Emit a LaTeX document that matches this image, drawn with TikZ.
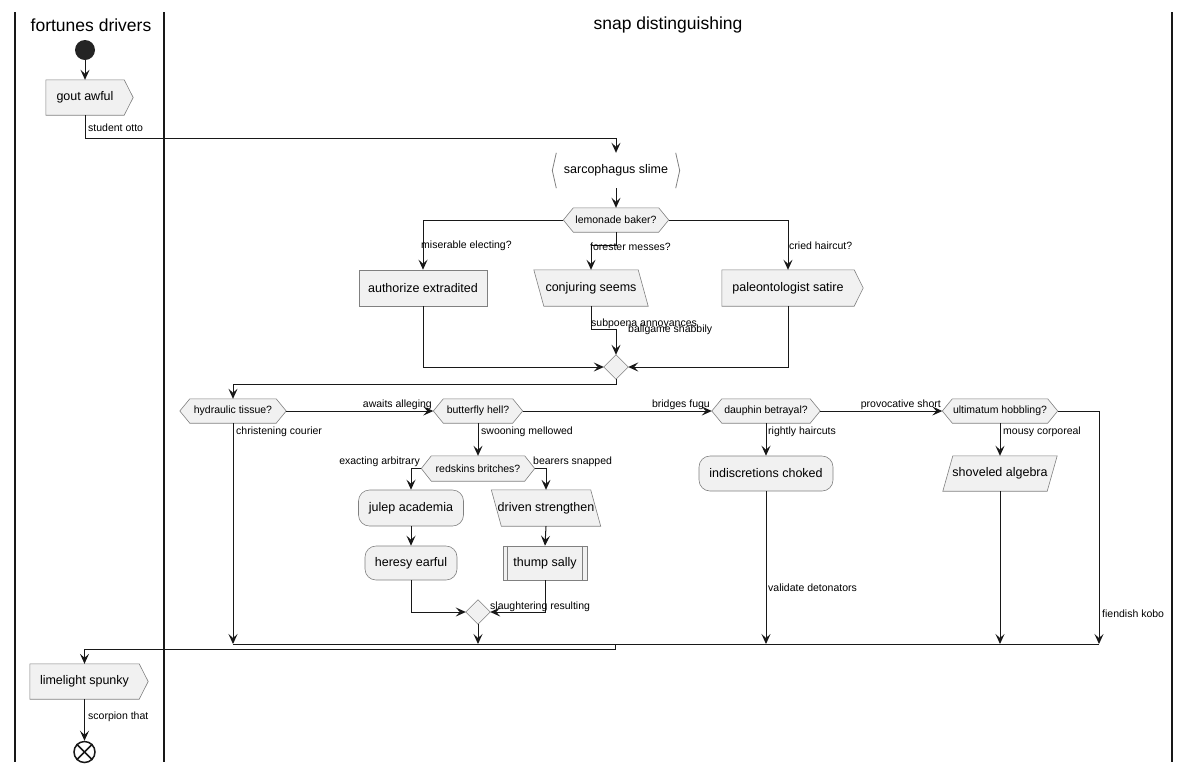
\documentclass[tikz,border=0pt]{standalone}
\usepackage{fontspec}
\setmainfont{Liberation Sans}
\usetikzlibrary{arrows.meta}
\pgfdeclarelayer{bg}
\pgfsetlayers{bg,main}
\definecolor{boxfill}{HTML}{F1F1F1}
\definecolor{boxline}{HTML}{808080}
\definecolor{ink}{HTML}{181818}
\tikzset{
  base/.style={inner sep=0pt, align=center, font=\fontsize{12.5}{14}\selectfont},
  plain/.style={base, draw=none},
  actbox/.style={base, draw=boxline, fill=boxfill, line width=0.6pt},
  roundbox/.style={actbox, rounded corners=11pt},
  hexnode/.style={base, font=\fontsize{10.5}{12}\selectfont},
  shp/.style={draw=boxline, fill=boxfill, line width=0.6pt},
  conn/.style={draw=ink, line width=1pt},
  arr/.style={conn, -{Stealth[length=10pt,width=9pt,inset=4pt]}},
  lbl/.style={inner sep=0pt, font=\fontsize{10.5}{12}\selectfont},
  lane/.style={draw=ink, line width=1.5pt},
  title/.style={inner sep=0pt, font=\fontsize{17.5}{20}\selectfont},
}
\newcommand\hexoutline[1]{\begin{pgfonlayer}{bg}\path[shp] (#1.west) -- ([xshift=10pt]#1.north west) -- ([xshift=-10pt]#1.north east) -- (#1.east) -- ([xshift=-10pt]#1.south east) -- ([xshift=10pt]#1.south west) -- cycle;\end{pgfonlayer}}
\newcommand\sigoutline[1]{\begin{pgfonlayer}{bg}\path[shp] (#1.north west) -- (#1.north east) -- ([xshift=9pt]#1.east) -- (#1.south east) -- (#1.south west) -- cycle;\end{pgfonlayer}}
\newcommand\backslant[1]{\begin{pgfonlayer}{bg}\path[shp] (#1.north west) -- ([xshift=-10pt]#1.north east) -- (#1.south east) -- ([xshift=10pt]#1.south west) -- cycle;\end{pgfonlayer}}
\newcommand\fwdslant[1]{\begin{pgfonlayer}{bg}\path[shp] ([xshift=10pt]#1.north west) -- (#1.north east) -- ([xshift=-10pt]#1.south east) -- (#1.south west) -- cycle;\end{pgfonlayer}}
\newcommand\diaoutline[1]{\begin{pgfonlayer}{bg}\path[shp] (#1.north) -- (#1.east) -- (#1.south) -- (#1.west) -- cycle;\end{pgfonlayer}}
\begin{document}
\begin{tikzpicture}[x=1pt,y=-1pt]
\useasboundingbox (0,0) rectangle (1190,772);
% lanes
\draw[lane] (15,12) -- (15,762);
\draw[lane] (164,12) -- (164,762);
\draw[lane] (1172,12) -- (1172,762);
\node[title] (t1) at (91,25) {fortunes drivers};
\node[title] (t2) at (668,25) {snap distinguishing};

% nodes
\node[circle, fill=ink!95, minimum size=20pt, inner sep=0pt] (start) at (85,50) {};
\node[plain, minimum width=78pt, minimum height=35pt] (gout) at (85,97.5) {gout awful};
\sigoutline{gout}
\node[plain, minimum width=127pt, minimum height=35pt] (sar) at (616,170.5) {sarcophagus slime};
\draw[boxline, line width=0.8pt] ([xshift=4pt]sar.north west) -- (sar.west) -- ([xshift=4pt]sar.south west);
\draw[boxline, line width=0.8pt] ([xshift=-4pt]sar.north east) -- (sar.east) -- ([xshift=-4pt]sar.south east);
\node[hexnode, minimum width=105pt, minimum height=24pt] (lem) at (616,220) {lemonade baker?};
\hexoutline{lem}
\node[actbox, minimum width=128pt, minimum height=36pt] (auth) at (423,288) {authorize extradited};
\node[plain, minimum width=114pt, minimum height=36pt] (conj) at (591,288) {conjuring seems};
\backslant{conj}
\node[plain, minimum width=132pt, minimum height=36pt] (paleo) at (788,288) {paleontologist satire};
\sigoutline{paleo}
\node[plain, minimum width=24pt, minimum height=24pt] (m1) at (616,367) {};
\diaoutline{m1}

\node[hexnode, minimum width=106pt, minimum height=24pt] (hyd) at (233,411) {hydraulic tissue?};
\hexoutline{hyd}
\node[hexnode, minimum width=89pt, minimum height=24pt] (but) at (478,411) {butterfly hell?};
\hexoutline{but}
\node[hexnode, minimum width=108pt, minimum height=24pt] (dau) at (766,411) {dauphin betrayal?};
\hexoutline{dau}
\node[hexnode, minimum width=115pt, minimum height=24pt] (ult) at (1000,411) {ultimatum hobbling?};
\hexoutline{ult}

\node[hexnode, minimum width=113pt, minimum height=25pt] (red) at (478,468.5) {redskins britches?};
\hexoutline{red}
\node[roundbox, minimum width=105pt, minimum height=36pt] (jul) at (411,508) {julep academia};
\node[roundbox, minimum width=92pt, minimum height=34pt] (her) at (411,563) {heresy earful};
\node[plain, minimum width=109pt, minimum height=36pt] (drv) at (546,508) {driven strengthen};
\backslant{drv}
\node[actbox, minimum width=84pt, minimum height=34pt] (thu) at (545,563) {thump sally};
\draw[boxline, line width=0.6pt] ([xshift=5pt]thu.north west) -- ([xshift=5pt]thu.south west);
\draw[boxline, line width=0.6pt] ([xshift=-5pt]thu.north east) -- ([xshift=-5pt]thu.south east);
\node[plain, minimum width=24pt, minimum height=24pt] (m2) at (478,612) {};
\diaoutline{m2}
\node[roundbox, minimum width=134pt, minimum height=35pt] (ind) at (766,473.5) {indiscretions choked};
\node[plain, minimum width=114pt, minimum height=35pt] (sho) at (1000,473.5) {shoveled algebra};
\fwdslant{sho}

\node[plain, minimum width=109pt, minimum height=35pt] (lim) at (84.5,681.5) {limelight spunky};
\sigoutline{lim}
\node[circle, draw=ink, line width=1.5pt, fill=white, minimum size=21pt, inner sep=0pt] (stop) at (84.5,752) {};
\draw[ink, line width=1.5pt] (stop.north west) -- (stop.south east);
\draw[ink, line width=1.5pt] (stop.north east) -- (stop.south west);

% bar coordinates
\coordinate (b1) at (hyd.south |- 0,644);
\coordinate (b2) at (m2.south |- 0,644);
\coordinate (b3) at (ind.south |- 0,644);
\coordinate (b4) at (sho.south |- 0,644);
\coordinate (b5) at (1099,644);
\coordinate (bx) at (615,644);

% connectors
\draw[arr] (start.south) -- (gout.north);
\draw[arr] (gout.south) -- ++(0,23) -| (sar.north);
\draw[arr] (sar.south) -- (lem.north);
\draw[arr] (lem.west) -| (auth.north);
\draw[arr] (lem.south) -- ++(0,13) -| (conj.north);
\draw[arr] (lem.east) -| (paleo.north);
\draw[arr] (conj.south) -- ++(0,23) -| (m1.north);
\draw[arr] (auth.south) |- (m1.west);
\draw[arr] (paleo.south) |- (m1.east);
\draw[arr] (m1.south) -- ++(0,5) -| (hyd.north);
\draw[arr] (hyd.east) -- (but.west);
\draw[arr] (but.east) -- (dau.west);
\draw[arr] (dau.east) -- (ult.west);
\draw[arr] (ult.east) -| (b5);
\draw[arr] (hyd.south) -- (b1);
\draw[arr] (but.south) -- (red.north);
\draw[arr] (red.west) -| (jul.north);
\draw[arr] (red.east) -| (drv.north);
\draw[arr] (jul.south) -- (her.north);
\draw[arr] (drv.south) -- (thu.north);
\draw[arr] (her.south) |- (m2.west);
\draw[arr] (thu.south) |- (m2.east);
\draw[arr] (m2.south) -- (b2);
\draw[arr] (dau.south) -- (ind.north);
\draw[arr] (ind.south) -- (b3);
\draw[arr] (ult.south) -- (sho.north);
\draw[arr] (sho.south) -- (b4);
\draw[conn] (b1) -- (b5);
\draw[arr] (bx) -- ++(0,5) -| (lim.north);
\draw[arr] (lim.south) -- (stop.north);

% labels
\node[lbl, anchor=west] (l1) at (88,128) {student otto};
\node[lbl, anchor=west] (l2) at (421,246) {miserable electing?};
\node[lbl, anchor=west] (l3) at (590,247) {forester messes?};
\node[lbl, anchor=west] (l4) at (789,246) {cried haircut?};
\node[lbl, anchor=west] (l5) at (591,324) {subpoena annoyances};
\node[lbl, anchor=west] (l6) at (628,330) {ballgame shabbily};
\node[lbl, anchor=east] (l7) at (432,405) {awaits alleging};
\node[lbl, anchor=east] (l8) at (710,405) {bridges fugu};
\node[lbl, anchor=east] (l9) at (941,405) {provocative short};
\node[lbl, anchor=west] (l10) at (236,432) {christening courier};
\node[lbl, anchor=west] (l11) at (481,432) {swooning mellowed};
\node[lbl, anchor=west] (l12) at (768,432) {rightly haircuts};
\node[lbl, anchor=west] (l13) at (1003,432) {mousy corporeal};
\node[lbl, anchor=east] (l14) at (420,462) {exacting arbitrary};
\node[lbl, anchor=west] (l15) at (533,462) {bearers snapped};
\node[lbl, anchor=west] (l16) at (490,607) {slaughtering resulting};
\node[lbl, anchor=west] (l17) at (768,588) {validate detonators};
\node[lbl, anchor=west] (l18) at (1102,614) {fiendish kobo};
\node[lbl, anchor=west] (l19) at (88,717) {scorpion that};
\end{tikzpicture}
\end{document}
